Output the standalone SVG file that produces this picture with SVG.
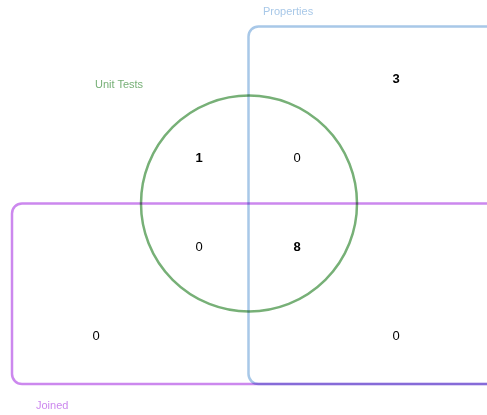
<svg xmlns="http://www.w3.org/2000/svg" width="487" height="415" viewBox="0 0 487 415">
<style>
.set{fill:none;stroke-width:2.5;mix-blend-mode:multiply}
.lbl{font-family:"Liberation Sans",Arial,sans-serif;font-size:11px}
.num{font-family:"Liberation Sans",Arial,sans-serif;font-size:13px;fill:#000;text-anchor:middle}
.b{font-weight:bold}
</style>
<rect width="487" height="415" fill="#fff"/>
<g id="connectors"/>
<g id="properties">
<rect class="set" x="248.5" y="26.5" width="260" height="357.5" rx="10" stroke="#a8c8e8"/>
<text class="lbl" x="263" y="15" fill="#a8c8e8">Properties</text>
</g>
<g id="joined">
<rect class="set" x="12" y="203.5" width="500" height="180.5" rx="10" stroke="#cc88ee"/>
<text class="lbl" x="36" y="409" fill="#cc88ee">Joined</text>
</g>
<g id="unit-tests">
<circle class="set" cx="249" cy="203.5" r="108" stroke="#77b077"/>
<text class="lbl" x="95" y="88" fill="#77b077">Unit Tests</text>
</g>
<g id="counts">
<text class="num b" x="396" y="83">3</text>
<text class="num b" x="199" y="162">1</text>
<text class="num" x="297" y="162">0</text>
<text class="num" x="199" y="251">0</text>
<text class="num b" x="297" y="251">8</text>
<text class="num" x="96" y="340">0</text>
<text class="num" x="396" y="340">0</text>
</g>
</svg>
